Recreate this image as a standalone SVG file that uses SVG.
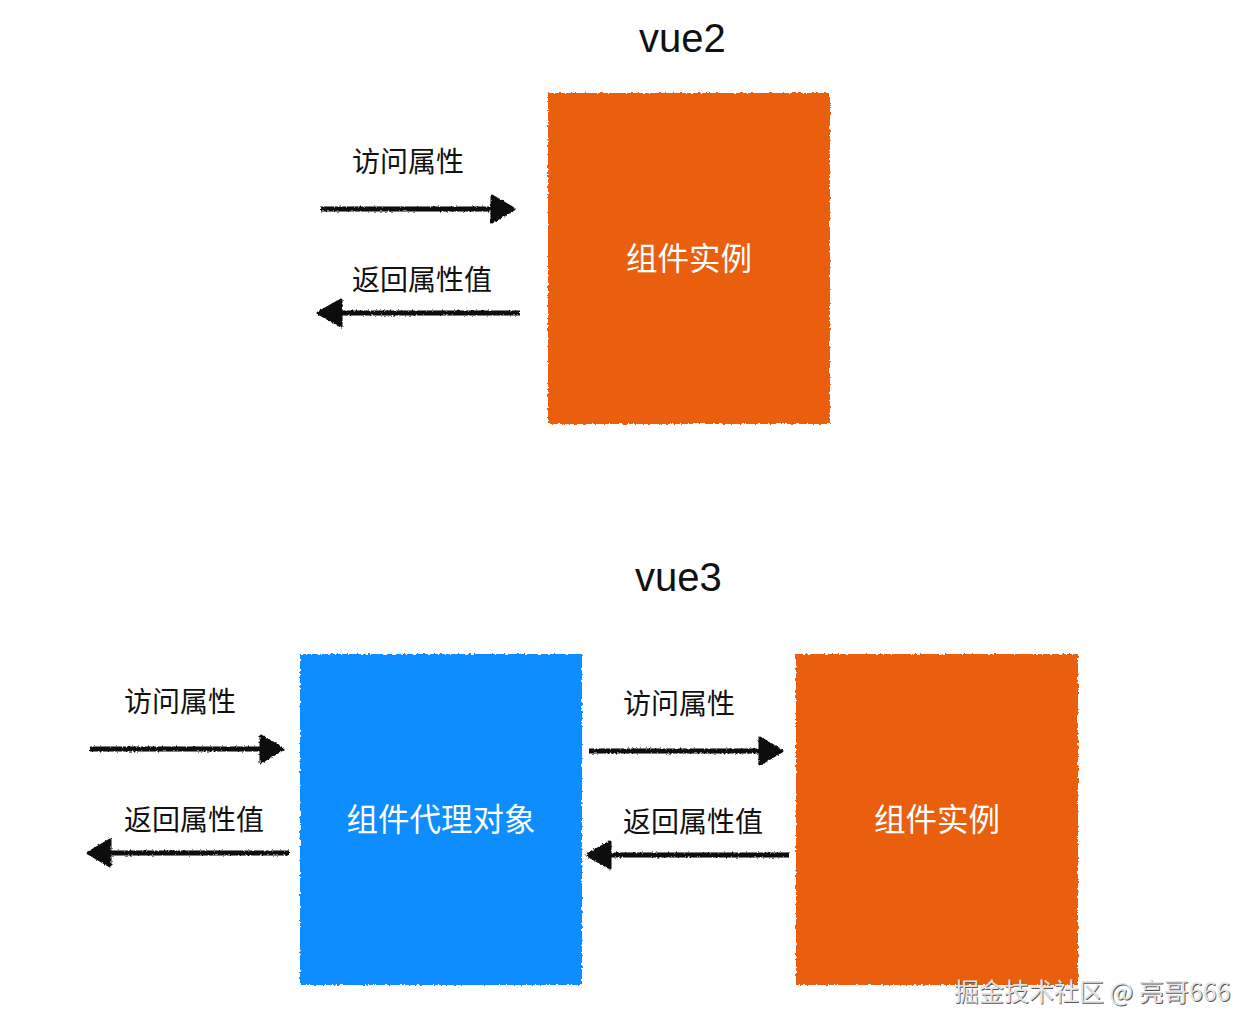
<svg xmlns="http://www.w3.org/2000/svg" width="1260" height="1034" viewBox="0 0 1260 1034">
<style>
.lat{font-family:"Liberation Sans",Arial,sans-serif;font-size:40px;fill:#111}
.lb{font-family:"Noto Sans CJK SC","Liberation Sans",sans-serif;font-size:28px;fill:#111}
.box{font-family:"Noto Sans CJK SC","Liberation Sans",sans-serif;font-size:31.5px;fill:#fff;text-anchor:middle}
.org{fill:#ea5f0a}
.blu{fill:#118dff}
.ln{stroke:#0a0a0a;stroke-width:5;fill:none}
.hd{fill:#0a0a0a;stroke:#0a0a0a;stroke-width:3;stroke-linejoin:round}
.wm{font-family:"Noto Sans CJK SC","Liberation Sans",sans-serif;font-size:25px}
</style>
<defs>
<filter id="rough" x="-5%" y="-5%" width="110%" height="110%"><feTurbulence type="fractalNoise" baseFrequency="0.35" numOctaves="2" seed="3"/><feDisplacementMap in="SourceGraphic" scale="3.5" xChannelSelector="R" yChannelSelector="G"/><feGaussianBlur stdDeviation="0.4"/></filter>
<filter id="rough2" x="-10%" y="-60%" width="120%" height="220%"><feTurbulence type="fractalNoise" baseFrequency="0.5" numOctaves="2" seed="8"/><feDisplacementMap in="SourceGraphic" scale="3" xChannelSelector="R" yChannelSelector="G"/><feGaussianBlur stdDeviation="0.4"/></filter>
</defs>
<rect width="1260" height="1034" fill="#fff"/>
<text class="lat" x="639" y="52">vue2</text>
<text class="lat" x="635" y="591">vue3</text>
<g id="vue2-instance"><rect class="org" x="548" y="93" width="282" height="331" filter="url(#rough)"/><text class="box" x="689" y="270">组件实例</text></g>
<g id="vue3-proxy"><rect class="blu" x="300" y="654" width="282" height="331" filter="url(#rough)"/><text class="box" x="441" y="831">组件代理对象</text></g>
<g id="vue3-instance"><rect class="org" x="796" y="654" width="282" height="331" filter="url(#rough)"/><text class="box" x="937" y="831">组件实例</text></g>
<g id="connectors">
<g filter="url(#rough2)">
<path class="ln" d="M321 209H495"/><path class="hd" d="M492 196L514 209L492 222Z"/>
<path class="ln" d="M520 313H340"/><path class="hd" d="M341 300L318 313L341 326Z"/>
<path class="ln" d="M90 749H264"/><path class="hd" d="M261 736L283 749L261 762Z"/>
<path class="ln" d="M289 853H109"/><path class="hd" d="M110 840L88 853L110 866Z"/>
<path class="ln" d="M589 751H763"/><path class="hd" d="M760 738L782 751L760 764Z"/>
<path class="ln" d="M789 855H609"/><path class="hd" d="M610 842L587 855L610 868Z"/>
</g>
</g>
<g id="labels">
<text class="lb" x="352" y="172">访问属性</text>
<text class="lb" x="352" y="290">返回属性值</text>
<text class="lb" x="124" y="712">访问属性</text>
<text class="lb" x="124" y="830">返回属性值</text>
<text class="lb" x="623" y="714">访问属性</text>
<text class="lb" x="623" y="832">返回属性值</text>
</g>
<g id="watermark">
<text class="wm" x="954.8" y="1001.8" fill="#555">掘金技术社区 @ 亮哥666</text>
<text class="wm" x="954" y="1001" fill="#e4e4e4">掘金技术社区 @ 亮哥666</text>
</g>
</svg>
